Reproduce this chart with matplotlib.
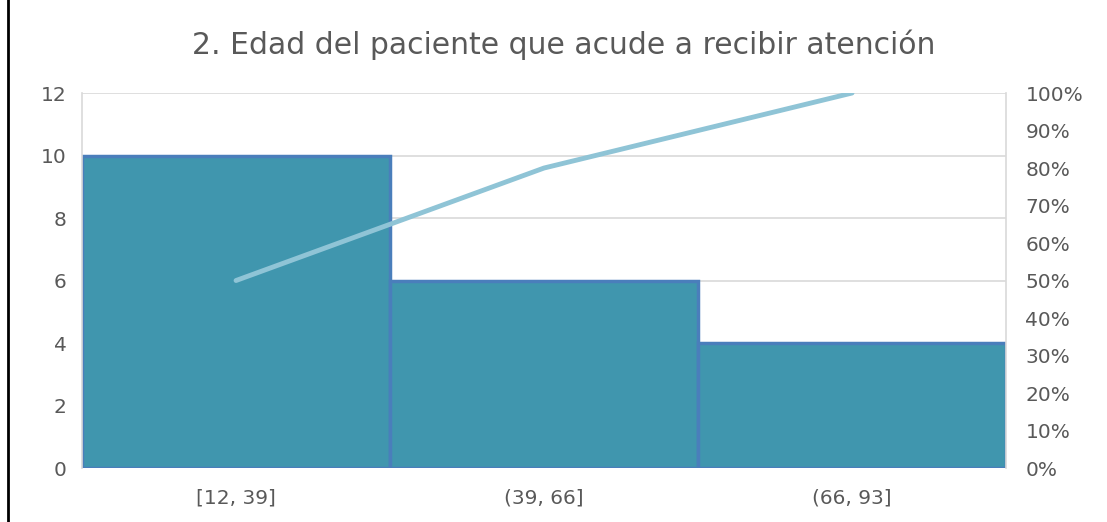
import matplotlib.pyplot as plt
from matplotlib.lines import Line2D
from matplotlib.ticker import PercentFormatter

# Data
categories = ["[12, 39]", "(39, 66]", "(66, 93]"]
counts = [10, 6, 4]
cumulative_pct = [0.5, 0.8, 1.0]
left_ticks = [0, 2, 4, 6, 8, 10, 12]
right_ticks = [0.0, 0.1, 0.2, 0.3, 0.4, 0.5, 0.6, 0.7, 0.8, 0.9, 1.0]

text_color = "#595959"
grid_color = "#D9D9D9"

fig = plt.figure(figsize=(11.07, 5.22), dpi=100)
ax = fig.add_axes([0.0741, 0.1034, 0.8347, 0.7184])

# Bars (touching, like a histogram)
x = range(len(categories))
ax.bar(x, counts, width=1.0, color="#4096AE", edgecolor="#4A7EBB",
       linewidth=2.5, zorder=2)

ax.set_xlim(-0.5, len(categories) - 0.5)
ax.set_ylim(0, 12)
ax.set_yticks(left_ticks)
ax.set_xticks(list(x))
ax.set_xticklabels(categories)

ax.grid(axis="y", color=grid_color, linewidth=1.2, zorder=0)
for side in ["top", "bottom"]:
    ax.spines[side].set_visible(False)
for side in ["left", "right"]:
    ax.spines[side].set_color(grid_color)
    ax.spines[side].set_linewidth(1.2)
ax.tick_params(axis="both", length=0, labelsize=14.5, colors=text_color,
               labelfontfamily="DejaVu Sans")
ax.tick_params(axis="y", pad=11)
ax.tick_params(axis="x", pad=15)

# Cumulative percentage line on secondary axis
ax2 = ax.twinx()
ax2.plot(list(x), cumulative_pct, color="#8FC4D6", linewidth=3.5,
         solid_capstyle="round")
ax2.set_ylim(0, 1.0)
ax2.set_yticks(right_ticks)
ax2.yaxis.set_major_formatter(PercentFormatter(1.0, decimals=0))
for side in ["top", "bottom", "left", "right"]:
    ax2.spines[side].set_visible(False)
ax2.tick_params(axis="y", length=0, labelsize=14.5, colors=text_color,
                labelfontfamily="DejaVu Sans", pad=14)

fig.text(0.509, 0.914, "2. Edad del paciente que acude a recibir atención",
         ha="center", va="center", fontsize=21.5, color=text_color,
         family="DejaVu Sans")

# Black border line on the left of the screenshot
fig.add_artist(Line2D([0.0075, 0.0075], [0.0, 1.0], color="black",
                      linewidth=2, transform=fig.transFigure))

fig.savefig("out.png", dpi=100)
